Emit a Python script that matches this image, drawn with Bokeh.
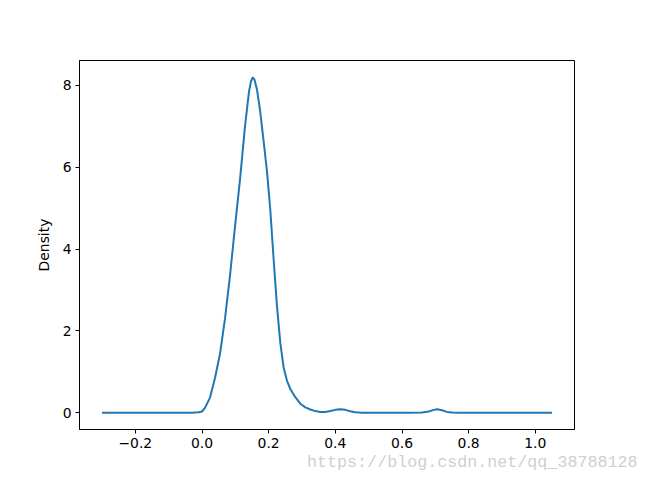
from bokeh.plotting import figure
from bokeh.models import FixedTicker, Range1d, Title
from bokeh.embed import file_html
from bokeh.resources import INLINE

# KDE curve
x_vals = [-0.30, -0.20, -0.10, -0.03, -0.01, 0.000, 0.009, 0.024, 0.039, 0.054,
          0.069, 0.084, 0.099, 0.114, 0.129, 0.141, 0.147, 0.152, 0.157, 0.165,
          0.174, 0.184, 0.195, 0.205, 0.214, 0.225, 0.235, 0.245, 0.255, 0.265,
          0.280, 0.295, 0.310, 0.325, 0.340, 0.355, 0.370, 0.385, 0.400, 0.415,
          0.430, 0.445, 0.460, 0.480, 0.550, 0.620, 0.660, 0.680, 0.695, 0.706,
          0.720, 0.735, 0.750, 0.770, 0.850, 0.950, 1.050]
density = [0.0, 0.0, 0.0, 0.002, 0.01, 0.03, 0.12, 0.37, 0.85, 1.44,
           2.30, 3.35, 4.55, 5.70, 7.00, 7.85, 8.10, 8.20, 8.15, 7.90,
           7.40, 6.70, 5.90, 4.95, 3.85, 2.60, 1.70, 1.10, 0.78, 0.58,
           0.38, 0.22, 0.13, 0.08, 0.04, 0.02, 0.02, 0.04, 0.07, 0.085,
           0.07, 0.035, 0.01, 0.002, 0.0, 0.0, 0.005, 0.03, 0.07, 0.085,
           0.06, 0.02, 0.005, 0.0, 0.0, 0.0, 0.0]

x_ticks = [-0.2, 0.0, 0.2, 0.4, 0.6, 0.8, 1.0]
x_tick_labels = ["\u22120.2", "0.0", "0.2", "0.4", "0.6", "0.8", "1.0"]
y_ticks = [0, 2, 4, 6, 8]
y_tick_labels = ["0", "2", "4", "6", "8"]
y_label = "Density"
watermark = "https://blog.csdn.net/qq_38788128"

xmin, xmax = min(x_vals), max(x_vals)
ymin, ymax = min(density), max(density)
xm = (xmax - xmin) * 0.05
ym = (ymax - ymin) * 0.05

p = figure(width=638, height=473, output_backend="svg", toolbar_location=None,
           x_range=Range1d(xmin - xm, xmax + xm), y_range=Range1d(ymin - ym, ymax + ym),
           min_border_left=79, min_border_right=64, min_border_top=60, min_border_bottom=44)

p.line(x_vals, density, line_color="#1f77b4", line_width=2)

p.grid.visible = False
p.outline_line_color = "black"
p.outline_line_width = 1
p.background_fill_color = "white"
p.border_fill_color = "white"

for ax in (p.xaxis[0], p.yaxis[0]):
    ax.axis_line_color = "black"
    ax.major_tick_line_color = "black"
    ax.major_tick_out = 4
    ax.major_tick_in = 0
    ax.minor_tick_line_color = None
    ax.major_label_text_font = "DejaVu Sans"
    ax.major_label_text_font_size = "13.9px"
    ax.major_label_text_color = "black"
    ax.major_label_standoff = 4

p.xaxis[0].ticker = FixedTicker(ticks=x_ticks)
p.xaxis[0].major_label_overrides = dict(zip(x_ticks, x_tick_labels))
p.yaxis[0].ticker = FixedTicker(ticks=y_ticks)
p.yaxis[0].major_label_overrides = dict(zip(y_ticks, y_tick_labels))

p.yaxis[0].axis_label = y_label
p.yaxis[0].axis_label_text_font = "DejaVu Sans"
p.yaxis[0].axis_label_text_font_size = "13.9px"
p.yaxis[0].axis_label_text_font_style = "normal"
p.yaxis[0].axis_label_text_color = "black"
p.yaxis[0].axis_label_standoff = 8

wm = Title(text=watermark, align="right", offset=-63, standoff=0,
           text_font="Liberation Mono", text_font_size="16.7px",
           text_font_style="normal", text_color="#d0d0d0")
p.add_layout(wm, "below")

open("out.html", "w").write(file_html(p, INLINE))
